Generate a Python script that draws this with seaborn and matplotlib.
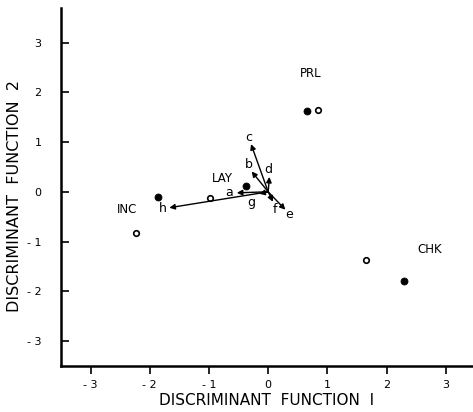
import pandas as pd
import matplotlib
matplotlib.use("Agg")
import matplotlib.pyplot as plt
import seaborn as sns

# --- data ---
groups = ["PRL", "CHK", "INC", "LAY"]
df1_filled = [0.66, 2.29, -1.87, -0.37]
df2_filled = [1.62, -1.80, -0.10, 0.12]
df1_open = [0.84, 1.65, -2.23, -0.98]
df2_open = [1.64, -1.37, -0.83, -0.12]

variables = ["a", "b", "c", "d", "e", "f", "g", "h"]
vec_x = [-0.53, -0.28, -0.29, 0.02, 0.29, 0.08, -0.15, -1.67]
vec_y = [-0.02, 0.41, 0.96, 0.30, -0.36, -0.20, -0.04, -0.32]

ticks = [-3, -2, -1, 0, 1, 2, 3]
tick_labels = ["- 3", "- 2", "- 1", "0", "1", "2", "3"]

# label offsets in pixels (layout only)
group_offsets = {"PRL": (3, 38), "CHK": (26, 32), "INC": (-30, -13), "LAY": (-24, 7)}
var_offsets = {"a": (-8, 0), "b": (-3, 7), "c": (-2, 7), "d": (-1, 7),
               "e": (4, -5), "f": (2, -8), "g": (-8, -9), "h": (-7, -1)}

sns.set_style("ticks")
plt.rcParams["font.family"] = ["DejaVu Sans"]
# plain black ink like the original figure
for key in ["text.color", "axes.labelcolor", "xtick.color", "ytick.color", "axes.edgecolor"]:
    plt.rcParams[key] = "black"

fig = plt.figure(figsize=(4.73, 4.12), dpi=100)
ax = fig.add_axes([0.129, 0.112, 0.871, 0.869])

pts = pd.DataFrame({
    "f1": df1_filled + df1_open,
    "f2": df2_filled + df2_open,
    "kind": ["filled"] * 4 + ["open"] * 4,
})
sns.scatterplot(data=pts[pts.kind == "filled"], x="f1", y="f2", ax=ax,
                s=26, color="black", edgecolor="black", linewidth=0.5, zorder=3)
sns.scatterplot(data=pts[pts.kind == "open"], x="f1", y="f2", ax=ax,
                s=16, facecolor="white", edgecolor="black", linewidth=1.2, zorder=3)

for v, x, y in zip(variables, vec_x, vec_y):
    ax.annotate("", xy=(x, y), xytext=(0, 0),
                arrowprops=dict(arrowstyle="-|>", lw=1.0, color="black",
                                mutation_scale=8, shrinkA=0, shrinkB=0))
    dx, dy = var_offsets[v]
    ax.annotate(v, xy=(x, y), xytext=(dx, dy), textcoords="offset pixels",
                ha="center", va="center", fontsize=9)

for g, x, y in zip(groups, df1_filled, df2_filled):
    dx, dy = group_offsets[g]
    ax.annotate(g, xy=(x, y), xytext=(dx, dy), textcoords="offset pixels",
                ha="center", va="center", fontsize=8.5)

ax.set_xlim(-3.5, 3.46)
ax.set_ylim(-3.5, 3.7)
ax.set_xticks(ticks)
ax.set_xticklabels(tick_labels, fontsize=8)
ax.set_yticks(ticks)
ax.set_yticklabels(tick_labels, fontsize=8)
ax.tick_params(axis="x", direction="out", length=6, width=1.2, pad=4)
ax.tick_params(axis="y", direction="in", length=6, width=1.2, pad=14)

ax.set_xlabel("DISCRIMINANT  FUNCTION  I", fontsize=11, labelpad=2)
ax.set_ylabel("DISCRIMINANT  FUNCTION  2", fontsize=11.5)
ax.yaxis.set_label_coords(-0.095, 0.475)

sns.despine(ax=ax)
for s in ["left", "bottom"]:
    ax.spines[s].set_linewidth(1.8)

fig.savefig("out.png", dpi=100)
